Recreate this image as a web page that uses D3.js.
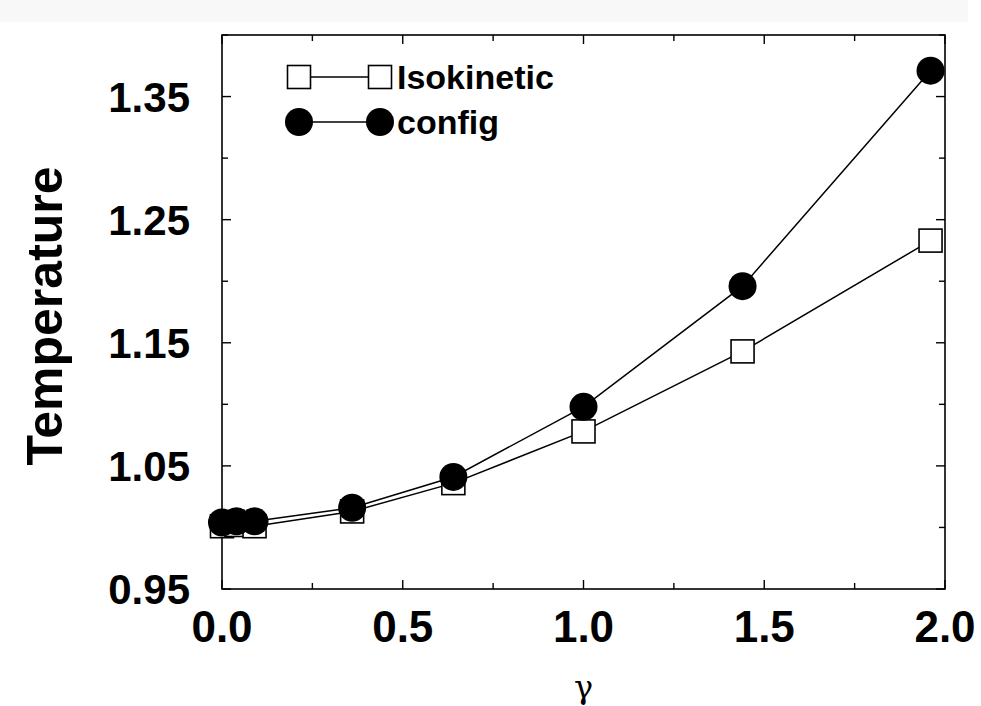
<!DOCTYPE html>
<html>
<head>
<meta charset="utf-8">
<script src="https://cdn.jsdelivr.net/npm/d3@7"></script>
<style>
  body { margin: 0; background: #fff; }
  svg { display: block; }
</style>
</head>
<body>
<svg id="chart" width="981" height="706"></svg>
<script>
// gamma values and the two temperature series
const gammas = [0, 0.04, 0.09, 0.36, 0.64, 1.0, 1.44, 1.96];
const isokinetic = [1.001, 1.002, 1.001, 1.013, 1.036, 1.078, 1.143, 1.233];
const config = [1.004, 1.005, 1.005, 1.016, 1.041, 1.098, 1.196, 1.371];

const xTickLabels = [0, 0.5, 1.0, 1.5, 2.0];
const yTickLabels = [0.95, 1.05, 1.15, 1.25, 1.35];
const seriesNames = ['Isokinetic', 'config'];

const svg = d3.select('#chart');

// faint grey strip along the top of the scan
svg.append('rect').attr('x', 0).attr('y', 0).attr('width', 968).attr('height', 22).attr('fill', '#f8f8f8');

const pL = 222, pR = 945, pT = 35, pB = 589;
const x = d3.scaleLinear().domain([0, 2]).range([pL, pR]);
const y = d3.scaleLinear().domain([0.95, 1.40]).range([pB, pT]);

const font = 'Liberation Sans, Arial, Helvetica, sans-serif';

// frame
svg.append('rect')
  .attr('x', pL).attr('y', pT)
  .attr('width', pR - pL).attr('height', pB - pT)
  .attr('fill', 'none').attr('stroke', '#000').attr('stroke-width', 1.6);

// ticks pointing inward on all four sides
const xMinor = d3.range(0, 2.001, 0.25);
const yMinor = d3.range(0.95, 1.401, 0.05).map(d => +d.toFixed(2));
const isMajorX = d => Math.abs(d * 2 - Math.round(d * 2)) < 1e-6;
const isMajorY = d => yTickLabels.some(v => Math.abs(v - d) < 1e-6);

const ticks = svg.append('g').attr('stroke', '#000').attr('stroke-width', 1.4);
xMinor.forEach(d => {
  const len = isMajorX(d) ? 9 : 6;
  ticks.append('line').attr('x1', x(d)).attr('x2', x(d)).attr('y1', pB).attr('y2', pB - len);
  ticks.append('line').attr('x1', x(d)).attr('x2', x(d)).attr('y1', pT).attr('y2', pT + len);
});
yMinor.forEach(d => {
  const len = isMajorY(d) ? 9 : 6;
  ticks.append('line').attr('y1', y(d)).attr('y2', y(d)).attr('x1', pL).attr('x2', pL + len);
  ticks.append('line').attr('y1', y(d)).attr('y2', y(d)).attr('x1', pR).attr('x2', pR - len);
});

// tick labels
svg.append('g').selectAll('text').data(xTickLabels).enter().append('text')
  .attr('x', d => x(d)).attr('y', 642)
  .attr('text-anchor', 'middle')
  .attr('font-family', font).attr('font-weight', 'bold').attr('font-size', 44)
  .text(d => d3.format('.1f')(d));

svg.append('g').selectAll('text').data(yTickLabels).enter().append('text')
  .attr('x', 190).attr('y', d => y(d))
  .attr('dy', '0.36em')
  .attr('text-anchor', 'end')
  .attr('font-family', font).attr('font-weight', 'bold').attr('font-size', 42)
  .text(d => d3.format('.2f')(d));

// axis titles
svg.append('text')
  .attr('x', (pL + pR) / 2).attr('y', 698)
  .attr('text-anchor', 'middle')
  .attr('font-family', 'DejaVu Serif, Liberation Serif, serif').attr('font-size', 32)
  .text('γ');

svg.append('text')
  .attr('transform', 'translate(62, 316) rotate(-90)')
  .attr('text-anchor', 'middle')
  .attr('font-family', font).attr('font-weight', 'bold').attr('font-size', 50)
  .text('Temperature');

// lines
const line = d3.line().x(d => x(d[0])).y(d => y(d[1]));
const isoPts = gammas.map((g, i) => [g, isokinetic[i]]);
const cfgPts = gammas.map((g, i) => [g, config[i]]);

svg.append('path').attr('d', line(isoPts)).attr('fill', 'none').attr('stroke', '#000').attr('stroke-width', 1.5);
svg.append('path').attr('d', line(cfgPts)).attr('fill', 'none').attr('stroke', '#000').attr('stroke-width', 1.5);

const sq = 23, r = 14;

svg.append('g').selectAll('rect').data(isoPts).enter().append('rect')
  .attr('x', d => x(d[0]) - sq / 2).attr('y', d => y(d[1]) - sq / 2)
  .attr('width', sq).attr('height', sq)
  .attr('fill', '#fff').attr('stroke', '#000').attr('stroke-width', 1.6);

svg.append('g').selectAll('circle').data(cfgPts).enter().append('circle')
  .attr('cx', d => x(d[0])).attr('cy', d => y(d[1])).attr('r', r)
  .attr('fill', '#000');

// legend
const legend = svg.append('g');
const lx1 = 299, lx2 = 380, ly = [77, 122];

legend.append('line').attr('x1', lx1).attr('x2', lx2).attr('y1', ly[0]).attr('y2', ly[0]).attr('stroke', '#000').attr('stroke-width', 1.5);
[lx1, lx2].forEach(cx => {
  legend.append('rect').attr('x', cx - sq / 2).attr('y', ly[0] - sq / 2).attr('width', sq).attr('height', sq)
    .attr('fill', '#fff').attr('stroke', '#000').attr('stroke-width', 1.6);
});
legend.append('line').attr('x1', lx1).attr('x2', lx2).attr('y1', ly[1]).attr('y2', ly[1]).attr('stroke', '#000').attr('stroke-width', 1.5);
[lx1, lx2].forEach(cx => {
  legend.append('circle').attr('cx', cx).attr('cy', ly[1]).attr('r', r).attr('fill', '#000');
});

legend.selectAll('text').data(seriesNames).enter().append('text')
  .attr('x', 397).attr('y', (d, i) => ly[i] + 12)
  .attr('font-family', font).attr('font-weight', 'bold').attr('font-size', 34)
  .text(d => d);
</script>
</body>
</html>
